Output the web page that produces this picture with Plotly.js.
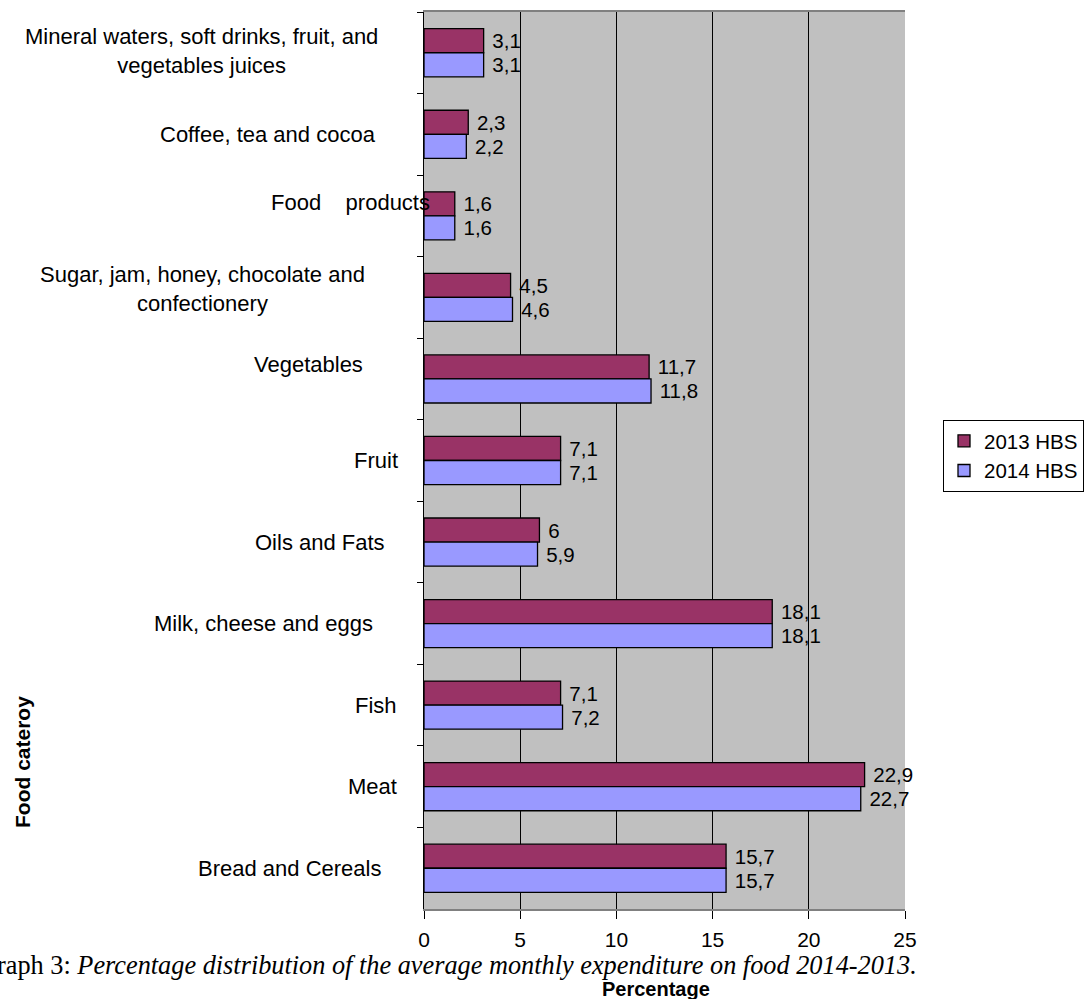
<!DOCTYPE html>
<html><head><meta charset="utf-8">
<script src="https://cdn.plot.ly/plotly-3.0.1.min.js"></script>
<style>body{margin:0;background:#fff}#c{width:1090px;height:999px}</style>
</head><body><div id="c"></div>
<script>
const categories = [
  "Mineral waters, soft drinks, fruit, and<br>vegetables juices",
  "Coffee, tea and cocoa",
  "Food    products",
  "Sugar, jam, honey, chocolate and<br>confectionery",
  "Vegetables",
  "Fruit",
  "Oils and Fats",
  "Milk, cheese and eggs",
  "Fish",
  "Meat",
  "Bread and Cereals"
];
const hbs2013 = [3.1, 2.3, 1.6, 4.5, 11.7, 7.1, 6, 18.1, 7.1, 22.9, 15.7];
const hbs2014 = [3.1, 2.2, 1.6, 4.6, 11.8, 7.1, 5.9, 18.1, 7.2, 22.7, 15.7];
const seriesNames = ["2013 HBS", "2014 HBS"];
const xTicks = [0, 5, 10, 15, 20, 25];

// label layout (pixels): horizontal centre and vertical shift of each category label
const labelCentres = [201, 268, 350, 202, 308, 376, 320, 263, 376, 372, 289];
const labelShifts  = [2, 0, 13, 8, 14, 0, 0, 0, 0, 0, 0];

const L = 424, R = 905, T = 12, B = 909, W = 1090, H = 999;
const px = v => (v - L) / (R - L);
const py = v => (B - v) / (B - T);

const fmt = v => '\u00a0' + String(v).replace('.', ',');
const FONT = 'Arial, "Liberation Sans", sans-serif';

const traces = [
  {type: 'bar', orientation: 'h', name: seriesNames[0], y: categories, x: hbs2013,
   marker: {color: '#993366', line: {color: '#000', width: 1.3}},
   text: hbs2013.map(fmt), textposition: 'outside', cliponaxis: false,
   textfont: {family: FONT, size: 20.5, color: '#000'}},
  {type: 'bar', orientation: 'h', name: seriesNames[1], y: categories, x: hbs2014,
   marker: {color: '#9999FF', line: {color: '#000', width: 1.3}},
   text: hbs2014.map(fmt), textposition: 'outside', cliponaxis: false,
   textfont: {family: FONT, size: 20.5, color: '#000'}}
];

const annotations = categories.map((c, i) => ({
  text: c, xref: 'paper', yref: 'y', x: px(labelCentres[i]), y: c, yshift: labelShifts[i],
  xanchor: 'center', yanchor: 'middle', align: 'center', showarrow: false,
  font: {family: FONT, size: 22, color: '#000'}
}));
annotations.push({
  text: '<b>Food cateroy</b>', xref: 'paper', yref: 'paper', x: px(22), y: py(762),
  textangle: -90, showarrow: false, xanchor: 'center', yanchor: 'middle',
  font: {family: FONT, size: 21, color: '#000'}
});
annotations.push({
  text: '<b>Percentage</b>', xref: 'paper', yref: 'paper', x: px(656), y: py(989),
  showarrow: false, xanchor: 'center', yanchor: 'middle',
  font: {family: FONT, size: 20, color: '#000'}
});
annotations.push({
  text: 'Graph 3: <i>Percentage distribution of the average monthly expenditure on food 2014-2013.</i>',
  xref: 'paper', yref: 'paper', x: px(919), y: py(965),
  showarrow: false, xanchor: 'right', yanchor: 'middle',
  font: {family: '"Liberation Serif", "Times New Roman", serif', size: 26.3, color: '#000'}
});

const layout = {
  width: W, height: H,
  margin: {l: L, r: W - R, t: T, b: H - B, pad: 0, autoexpand: false},
  paper_bgcolor: '#fff', plot_bgcolor: '#C0C0C0',
  barmode: 'group', bargap: 0.41, bargroupgap: 0,
  showlegend: true,
  legend: {x: px(943), y: py(420), xanchor: 'left', yanchor: 'top',
    bordercolor: '#000', borderwidth: 1, bgcolor: '#fff',
    font: {family: FONT, size: 20.5, color: '#000'}, tracegroupgap: 4,
    itemwidth: 30},
  xaxis: {range: [0, 25], tickvals: xTicks, ticktext: xTicks.map(String),
    showgrid: true, gridcolor: '#000', gridwidth: 1,
    ticks: 'outside', ticklen: 8, tickcolor: '#000', ticklabelstandoff: 3,
    showline: true, linecolor: '#808080', linewidth: 2, mirror: true,
    zeroline: false, tickfont: {family: FONT, size: 21, color: '#000'}},
  yaxis: {type: 'category', autorange: 'reversed', showticklabels: false,
    ticks: 'outside', ticklen: 6, tickcolor: '#000', tickson: 'boundaries',
    showgrid: false, showline: true, linecolor: '#000', linewidth: 1.5},
  annotations: annotations,
  font: {family: FONT}
};

Plotly.newPlot('c', traces, layout, {displayModeBar: false, staticPlot: true});
</script>
</body></html>
